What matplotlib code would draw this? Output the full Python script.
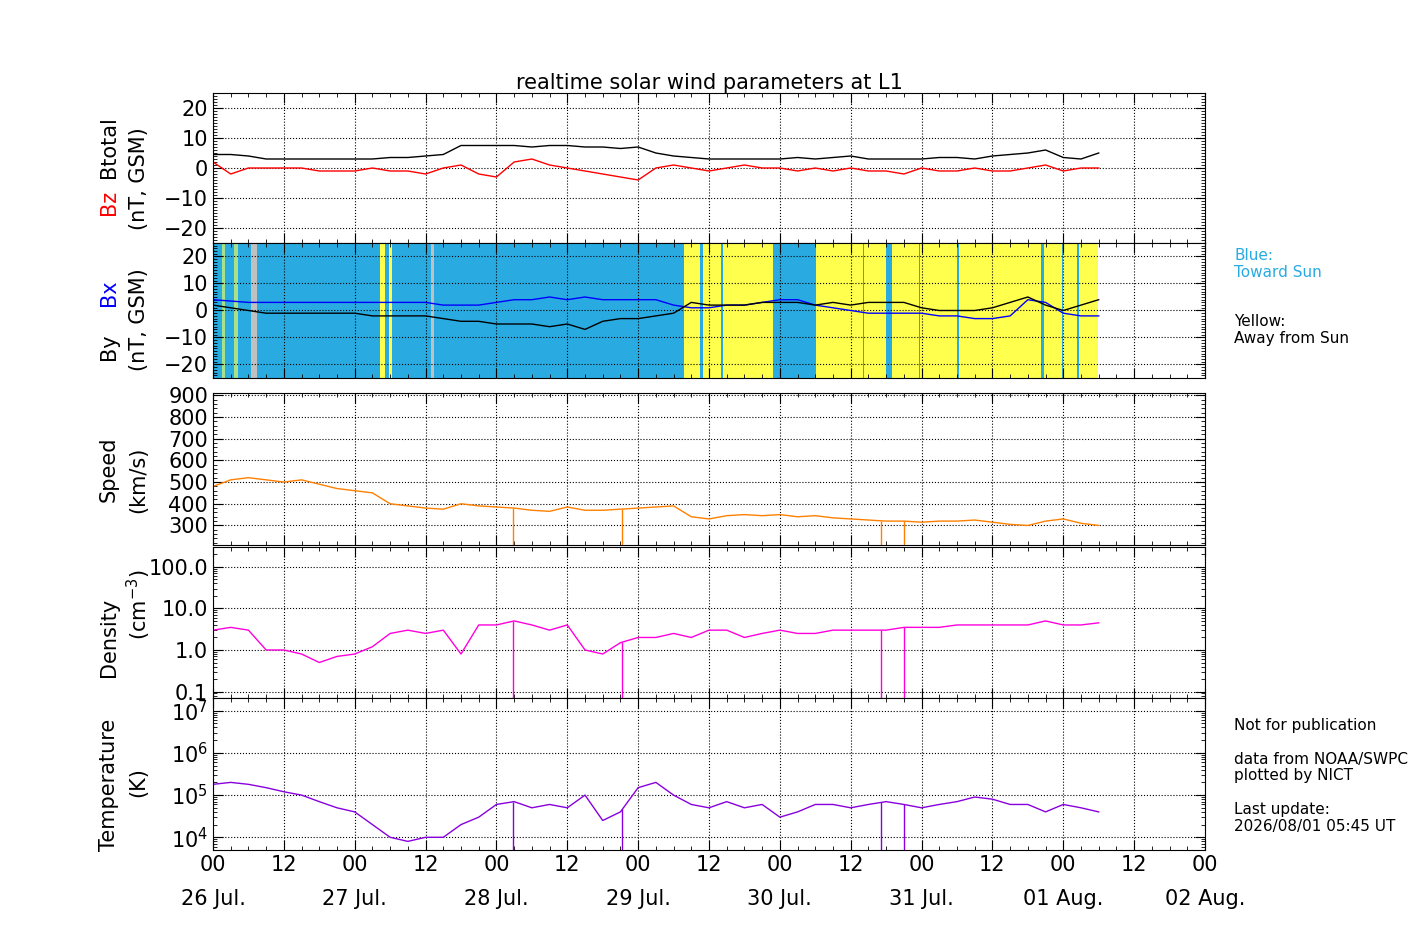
import numpy as np
import matplotlib.pyplot as plt
from matplotlib.ticker import MultipleLocator, LogLocator, FixedLocator, NullFormatter

# hours since 26 Jul 00 UT, 3-hourly readings
hours = np.arange(0, 153, 3)

btotal = [4.5, 4.5, 4, 3, 3, 3, 3, 3, 3, 3,
          3.5, 3.5, 4, 4.5, 7.5, 7.5, 7.5, 7.5, 7, 7.5,
          7.5, 7, 7, 6.5, 7, 5, 4, 3.5, 3, 3,
          3, 3, 3, 3.5, 3, 3.5, 4, 3, 3, 3,
          3, 3.5, 3.5, 3, 4, 4.5, 5, 6, 3.5, 3, 5]
bz = [2, -2, 0, 0, 0, 0, -1, -1, -1, 0,
      -1, -1, -2, 0, 1, -2, -3, 2, 3, 1,
      0, -1, -2, -3, -4, 0, 1, 0, -1, 0,
      1, 0, 0, -1, 0, -1, 0, -1, -1, -2,
      0, -1, -1, 0, -1, -1, 0, 1, -1, 0, 0]
bx = [4, 3.5, 3, 3, 3, 3, 3, 3, 3, 3,
      3, 3, 3, 2, 2, 2, 3, 4, 4, 5,
      4, 5, 4, 4, 4, 4, 2, 1, 1, 2,
      2, 3, 4, 4, 2, 1, 0, -1, -1, -1,
      -1, -2, -2, -3, -3, -2, 4, 3, -1, -2, -2]
by = [2, 1, 0, -1, -1, -1, -1, -1, -1, -2,
      -2, -2, -2, -3, -4, -4, -5, -5, -5, -6,
      -5, -7, -4, -3, -3, -2, -1, 3, 2, 2,
      2, 3, 3, 3, 2, 3, 2, 3, 3, 3,
      1, 0, 0, 0, 1, 3, 5, 2, 0, 2, 4]
speed = [480, 510, 520, 510, 500, 510, 490, 470, 460, 450,
         400, 390, 380, 375, 400, 390, 385, 380, 370, 365,
         385, 370, 370, 375, 380, 385, 390, 340, 330, 345,
         350, 345, 350, 340, 345, 335, 330, 325, 320, 320,
         315, 320, 320, 325, 315, 305, 300, 320, 330, 310, 300]
density = [3, 3.5, 3, 1, 1, 0.8, 0.5, 0.7, 0.8, 1.2,
           2.5, 3, 2.5, 3, 0.8, 4, 4, 5, 4, 3,
           4, 1, 0.8, 1.5, 2, 2, 2.5, 2, 3, 3,
           2, 2.5, 3, 2.5, 2.5, 3, 3, 3, 3, 3.5,
           3.5, 3.5, 4, 4, 4, 4, 4, 5, 4, 4, 4.5]
temp = [1.8e5, 2e5, 1.8e5, 1.5e5, 1.2e5, 1e5, 7e4, 5e4, 4e4, 2e4,
        1e4, 8e3, 1e4, 1e4, 2e4, 3e4, 6e4, 7e4, 5e4, 6e4,
        5e4, 1e5, 2.5e4, 4e4, 1.5e5, 2e5, 1e5, 6e4, 5e4, 7e4,
        5e4, 6e4, 3e4, 4e4, 6e4, 6e4, 5e4, 6e4, 7e4, 6e4,
        5e4, 6e4, 7e4, 9e4, 8e4, 6e4, 6e4, 4e4, 6e4, 5e4, 4e4]
dropouts = [50.8, 69.2, 113.2, 117.0]

# IMF sector background: (start hour, end hour, colour key)
sectors = [(0, 79.7, 'b'), (79.7, 94.9, 'y'), (94.9, 102.1, 'b'), (102.1, 149.8, 'y')]
stripes = [(1.5, 2.0, 'g'), (3.5, 4.2, 'g'), (6.5, 7.5, 'grey'), (28.3, 29.2, 'y'), (29.8, 30.3, 'y'),
           (37.0, 37.5, 'grey'), (82.5, 83.0, 'b'), (86.0, 86.3, 'b'), (110.0, 110.3, 'b'),
           (114.0, 115.0, 'b'), (119.5, 119.8, 'b'), (126.0, 126.3, 'b'), (140.3, 140.7, 'b'),
           (143.7, 144.0, 'b'), (146.3, 146.6, 'b')]
sec_col = {'b': '#29abe2', 'y': '#ffff4d', 'g': '#a8e08c', 'grey': '#c0c0c0'}

fig = plt.figure(figsize=(14.17, 9.44), dpi=100)
W, H = 1417, 944
def ax_at(top, bot):
    return fig.add_axes([213 / W, 1 - bot / H, (1205 - 213) / W, (bot - top) / H])

ax1 = ax_at(93, 243)
ax2 = ax_at(243, 378)
ax3 = ax_at(393, 545)
ax4 = ax_at(547, 698)
ax5 = ax_at(698, 850)
axes = [ax1, ax2, ax3, ax4, ax5]

ax1.plot(hours, bz, color='red', lw=1)
ax1.plot(hours, btotal, color='black', lw=1)
ax1.set_ylim(-25, 25)
ax1.yaxis.set_major_locator(MultipleLocator(10))
ax1.yaxis.set_minor_locator(MultipleLocator(1))
ax1.set_title('realtime solar wind parameters at L1', fontsize=15, pad=3)

for s, e, c in sectors + stripes:
    ax2.axvspan(s, e, color=sec_col[c], lw=0)
ax2.plot(hours, bx, color='blue', lw=1)
ax2.plot(hours, by, color='black', lw=1)
ax2.set_ylim(-25, 25)
ax2.yaxis.set_major_locator(MultipleLocator(10))
ax2.yaxis.set_minor_locator(MultipleLocator(1))

ax3.plot(hours, speed, color='#ff8000', lw=1)
ax3.vlines(dropouts, 210, np.interp(dropouts, hours, speed), color='#ff8000', lw=1)
ax3.set_ylim(210, 910)
ax3.yaxis.set_major_locator(FixedLocator([300, 400, 500, 600, 700, 800, 900]))
ax3.yaxis.set_minor_locator(MultipleLocator(20))

ax4.semilogy(hours, density, color='#ff00dd', lw=1)
ax4.vlines(dropouts, 0.07, np.interp(dropouts, hours, density), color='#ff00dd', lw=1)
ax4.set_ylim(0.07, 300)
ax4.yaxis.set_major_locator(FixedLocator([0.1, 1, 10, 100]))
ax4.set_yticklabels(['0.1', '1.0', '10.0', '100.0'])

ax5.semilogy(hours, temp, color='#8800dd', lw=1)
ax5.vlines(dropouts, 5e3, np.interp(dropouts, hours, temp), color='#8800dd', lw=1)
ax5.set_ylim(5e3, 2e7)
ax5.yaxis.set_major_locator(LogLocator(base=10, numticks=10))

for ax in [ax4, ax5]:
    ax.yaxis.set_minor_locator(LogLocator(base=10, subs=np.arange(2, 10), numticks=20))
    ax.yaxis.set_minor_formatter(NullFormatter())

xt = np.arange(0, 169, 12)
dates = ['26 Jul.', '27 Jul.', '28 Jul.', '29 Jul.', '30 Jul.', '31 Jul.', '01 Aug.', '02 Aug.']
xl = []
for h in xt:
    if h % 24 == 0:
        xl.append('00\n' + dates[h // 24])
    else:
        xl.append('12\n')
for ax in axes:
    ax.set_xlim(0, 168)
    ax.set_xticks(xt)
    ax.xaxis.set_minor_locator(MultipleLocator(3))
    ax.grid(True, which='major', color='black', ls=':', lw=0.8)
    ax.tick_params(which='both', direction='in', top=True, right=True, labelsize=15)
    ax.tick_params(which='major', length=7)
    ax.tick_params(which='minor', length=3)
    if ax is ax5:
        ax.set_xticklabels(xl, linespacing=1.9)
    else:
        ax.set_xticklabels([])

lab = dict(fontsize=15, rotation=90, ha='center', va='center')
ax1.text(-0.105, 0.27, 'Bz', color='red', transform=ax1.transAxes, **lab)
ax1.text(-0.105, 0.64, 'Btotal', color='black', transform=ax1.transAxes, **lab)
ax1.text(-0.075, 0.43, '(nT, GSM)', transform=ax1.transAxes, **lab)
ax2.text(-0.105, 0.23, 'By', color='black', transform=ax2.transAxes, **lab)
ax2.text(-0.105, 0.63, 'Bx', color='blue', transform=ax2.transAxes, **lab)
ax2.text(-0.075, 0.43, '(nT, GSM)', transform=ax2.transAxes, **lab)
ax3.text(-0.105, 0.5, 'Speed', transform=ax3.transAxes, **lab)
ax3.text(-0.075, 0.43, '(km/s)', transform=ax3.transAxes, **lab)
ax4.text(-0.105, 0.4, 'Density', transform=ax4.transAxes, **lab)
ax4.text(-0.075, 0.62, '(cm$^{-3}$)', transform=ax4.transAxes, **lab)
ax5.text(-0.105, 0.43, 'Temperature', transform=ax5.transAxes, **lab)
ax5.text(-0.075, 0.45, '(K)', transform=ax5.transAxes, **lab)

fig.text(1234 / W, 1 - 264 / H, 'Blue:\nToward Sun', color='#29abe2', fontsize=11, va='center')
fig.text(1234 / W, 1 - 330 / H, 'Yellow:\nAway from Sun', color='black', fontsize=11, va='center')
fig.text(1234 / W, 1 - 718 / H, 'Not for publication\n\ndata from NOAA/SWPC\nplotted by NICT\n\nLast update:\n2026/08/01 05:45 UT',
         fontsize=11, va='top', linespacing=1.15)

fig.savefig('out.png', dpi=100)
